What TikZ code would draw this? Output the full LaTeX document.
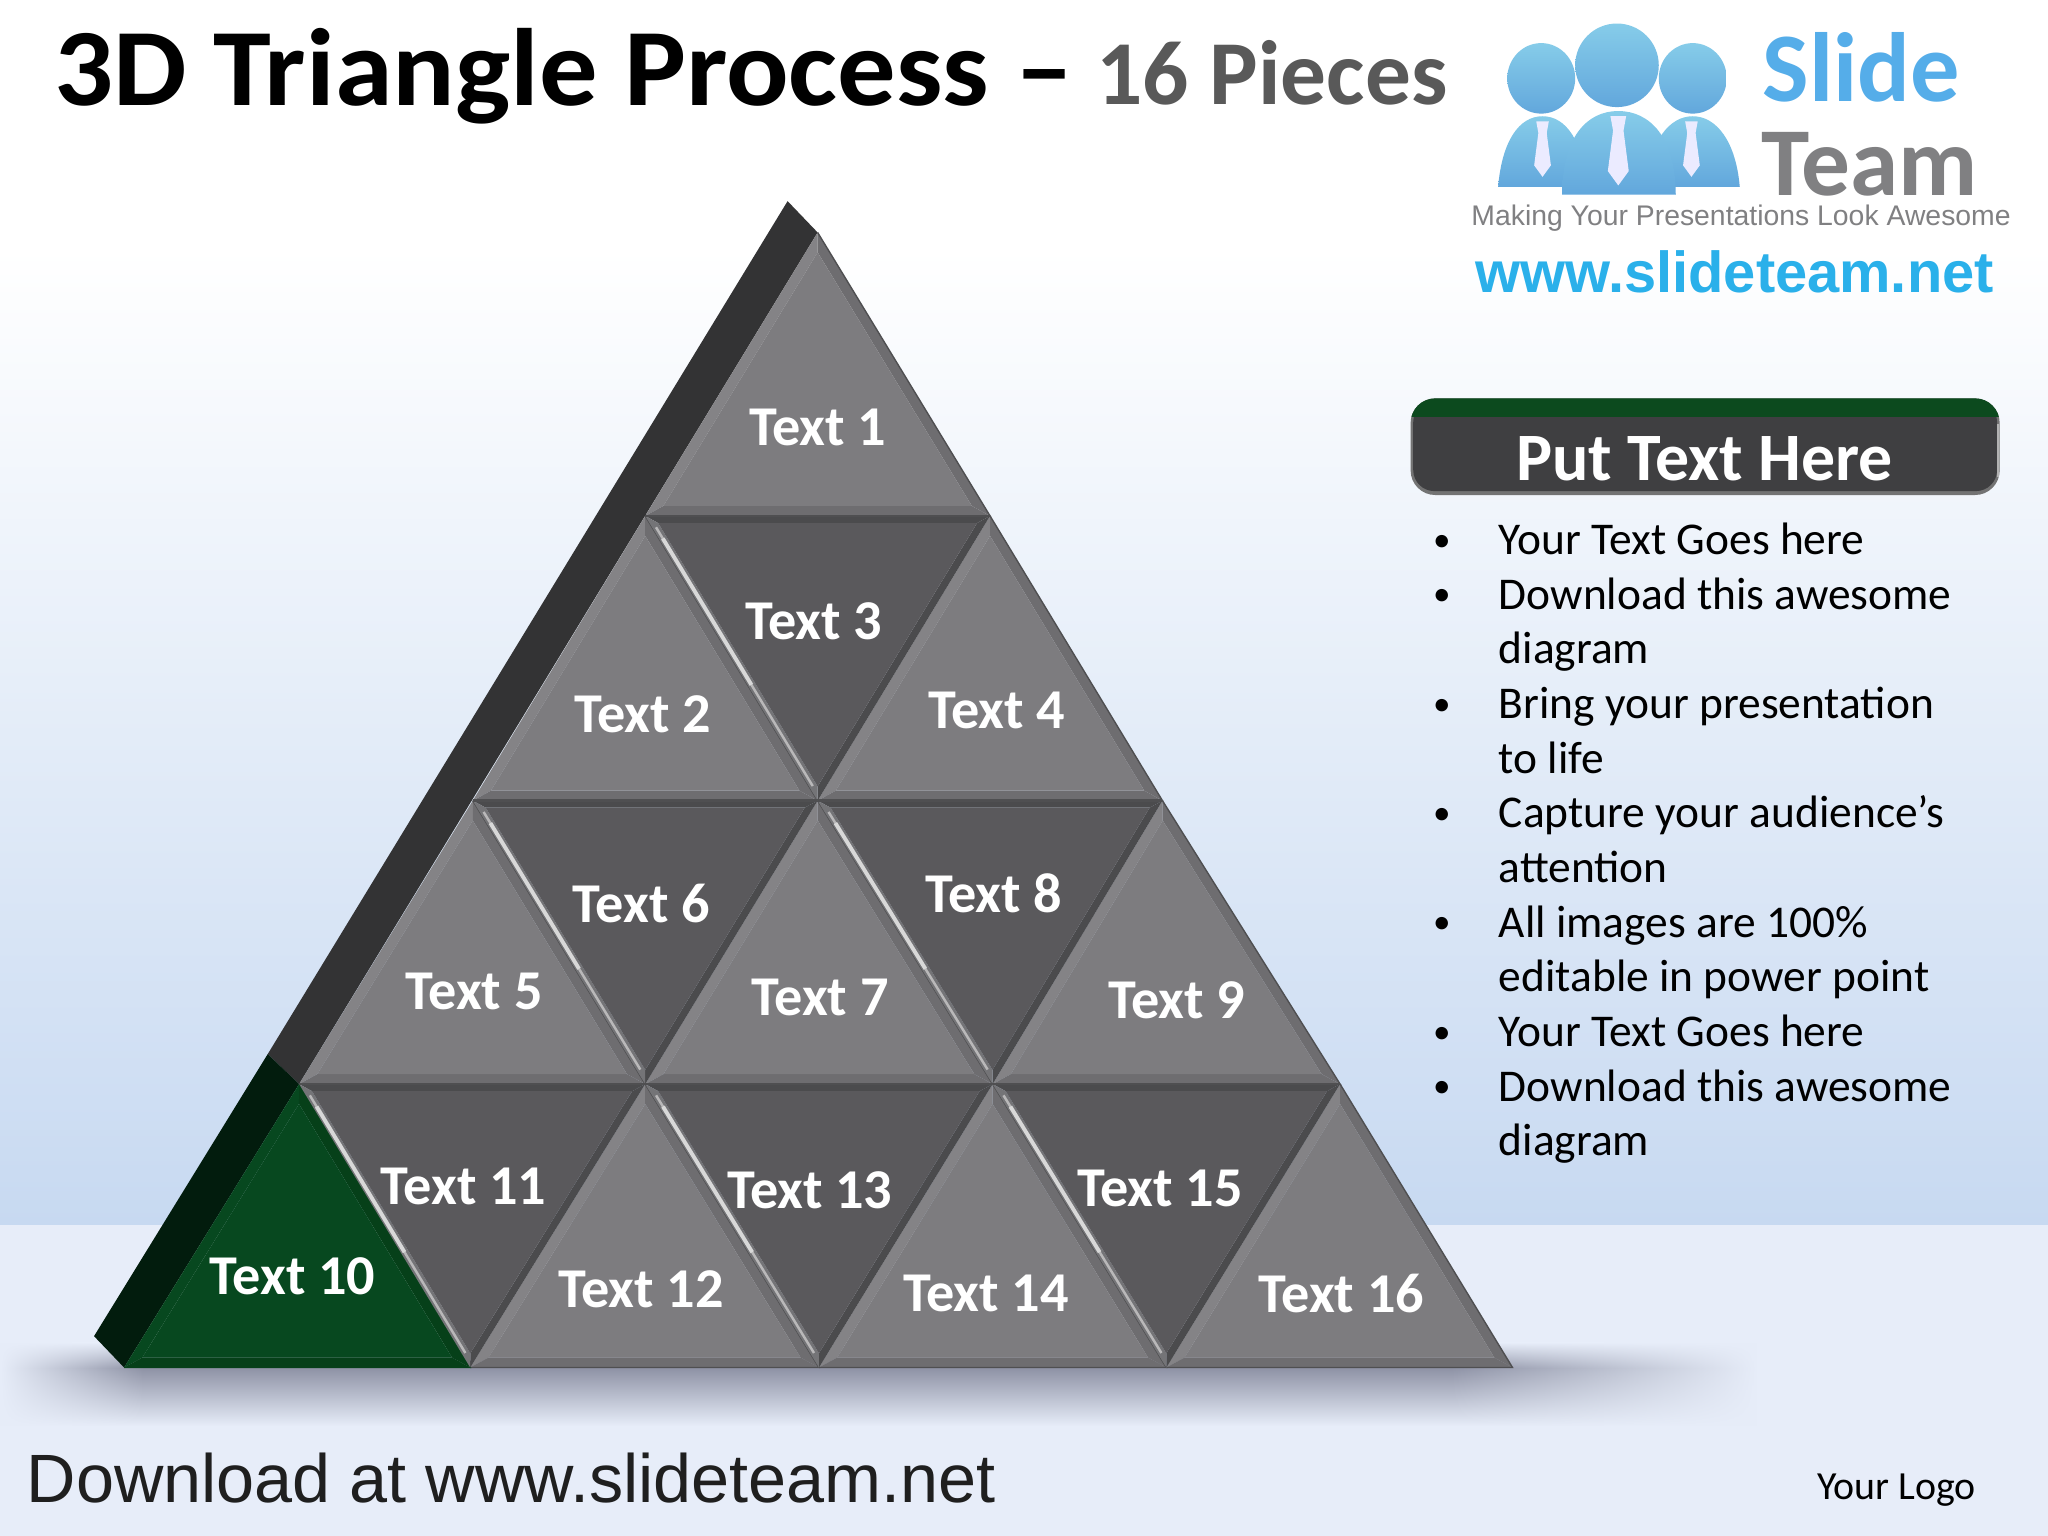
\documentclass[tikz,border=0pt]{standalone}
\usepackage{fontspec}
\setmainfont{Carlito}
\newfontfamily\arialfont{Liberation Sans}
\newfontfamily\titlefont[FakeStretch=1.06]{Carlito}
\usetikzlibrary{calc,fadings}
\definecolor{skyblue}{HTML}{C7D9F1}
\definecolor{floorblue}{HTML}{E7EDF9}
\definecolor{shadowgrey}{HTML}{8E92A5}
\definecolor{slabgrey}{HTML}{333334}
\definecolor{slabgreen}{HTML}{021C0D}
\definecolor{panelgreen}{HTML}{0C4A1E}
\definecolor{paneldark}{HTML}{3F3F41}
\definecolor{logoblue}{HTML}{55ADE9}
\definecolor{logogrey}{HTML}{808082}
\definecolor{logocyan}{HTML}{2AB0EA}
\definecolor{logotop}{HTML}{86CCE9}
\definecolor{logobot}{HTML}{62A7DC}
\definecolor{facegrey}{HTML}{7D7C7F}
\definecolor{litgrey}{HTML}{848386}
\definecolor{sidegrey}{HTML}{6E6D70}
\definecolor{edgegrey}{HTML}{4F4F51}
\definecolor{lowgrey}{HTML}{5A595C}
\definecolor{lowside}{HTML}{4B4B4D}
\definecolor{lowlit}{HTML}{747477}
\definecolor{glint}{HTML}{D8D8D8}
\definecolor{facegreen}{HTML}{07481F}
\definecolor{sidegreen}{HTML}{064019}
\pgfdeclareverticalshading{bandshade}{100bp}{color(0bp)=(floorblue); color(25bp)=(floorblue); color(60bp)=(shadowgrey); color(75bp)=(floorblue); color(100bp)=(floorblue)}
\tikzfading[name=fadeleft,left color=transparent!100,right color=transparent!0]
\tikzfading[name=faderight,left color=transparent!0,right color=transparent!100]
\tikzset{
  piecetext/.style={text=white,font=\fontsize{16}{19}\bfseries\selectfont,inner sep=0pt},
  listtext/.style={anchor=base west,text=black,font=\fontsize{12.93}{15}\selectfont,inner sep=0pt},
  listdot/.style={anchor=base,text=black,font=\fontsize{10}{12}\selectfont,inner sep=0pt},
  logoflesh/.style={top color=logotop,bottom color=logobot},
}
% up pointing piece: apex, left, right, face, lit side, dark side, edge
\newcommand{\uppiece}[7]{
  \coordinate (ia) at (barycentric cs:#1=0.93,#2=0.035,#3=0.035);
  \coordinate (il) at (barycentric cs:#1=0.035,#2=0.93,#3=0.035);
  \coordinate (ir) at (barycentric cs:#1=0.035,#2=0.035,#3=0.93);
  \fill[#5] (#1) -- (#2) -- (il) -- (ia) -- cycle;
  \fill[#6] (#1) -- (#3) -- (ir) -- (ia) -- cycle;
  \fill[#6] (#2) -- (#3) -- (ir) -- (il) -- cycle;
  \fill[#4] (ia) -- (il) -- (ir) -- cycle;
  \draw[#7,line width=0.4pt] (#1) -- (#3) -- (#2);
}
% down pointing piece: left, right, bottom
\newcommand{\downpiece}[3]{
  \coordinate (il) at (barycentric cs:#1=0.95,#2=0.025,#3=0.025);
  \coordinate (ir) at (barycentric cs:#1=0.025,#2=0.95,#3=0.025);
  \coordinate (ib) at (barycentric cs:#1=0.025,#2=0.025,#3=0.95);
  \fill[lowside] (#1) -- (#2) -- (ir) -- (il) -- cycle;
  \fill[lowside] (#2) -- (#3) -- (ib) -- (ir) -- cycle;
  \fill[lowlit] (#1) -- (#3) -- (ib) -- (il) -- cycle;
  \fill[lowgrey] (il) -- (ir) -- (ib) -- cycle;
  \draw[edgegrey,line width=0.7pt] (#1) -- (#2);
  \draw[glint!75!lowgrey,line width=0.7pt] ($(#1)!0.04!(#3)!0.012!(ir)$) -- ($(#1)!0.96!(#3)!0.012!(ir)$);
  \draw[glint,line width=1.1pt] ($(#1)!0.08!(#3)!0.012!(ir)$) -- ($(#1)!0.6!(#3)!0.012!(ir)$);
}
\begin{document}
\begin{tikzpicture}[x=0.0130612cm,y=-0.0130612cm]
\useasboundingbox (0,0) rectangle (1568,1176);
%backdrop
\fill[white] (0,0) rectangle (1568,190);
\shade[top color=white,bottom color=skyblue] (0,190) rectangle (1568,938);
\fill[floorblue] (0,938) rectangle (1568,1176);
%shadow
\shade[shading=bandshade] (110,1028) rectangle (1110,1092);
\shade[shading=bandshade,path fading=fadeleft] (0,1028) rectangle (110,1092);
\shade[shading=bandshade,path fading=faderight] (1110,1028) rectangle (1345,1092);
%grid points
\coordinate (a0) at (626,178);
\coordinate (b0) at (494,395);
\coordinate (b1) at (758,395);
\coordinate (c0) at (362,613);
\coordinate (c1) at (626,613);
\coordinate (c2) at (890,613);
\coordinate (d0) at (229,830);
\coordinate (d1) at (494,830);
\coordinate (d2) at (760,830);
\coordinate (d3) at (1026,830);
\coordinate (e0) at (95,1047);
\coordinate (e1) at (360,1047);
\coordinate (e2) at (627,1047);
\coordinate (e3) at (893,1047);
\coordinate (e4) at (1158,1047);
%side slab
\coordinate (s0) at (603,154);
\coordinate (s1) at (205,807);
\coordinate (s2) at (72,1023);
\fill[slabgrey] (s0) -- (a0) -- (d0) -- (s1) -- cycle;
\fill[slabgreen] (s1) -- (d0) -- (e0) -- (s2) -- cycle;
%pieces
\foreach \pa/\pb/\pc in {a0/b0/b1,b0/c0/c1,b1/c1/c2,c0/d0/d1,c1/d1/d2,c2/d2/d3,d1/e1/e2,d2/e2/e3,d3/e3/e4}{
  \uppiece{\pa}{\pb}{\pc}{facegrey}{litgrey}{sidegrey}{edgegrey}
}
\uppiece{d0}{e0}{e1}{facegreen}{facegreen}{sidegreen}{sidegreen}
\foreach \pa/\pb/\pc in {b0/b1/c1,c0/c1/d1,c1/c2/d2,d0/d1/e1,d1/d2/e2,d2/d3/e3}{
  \downpiece{\pa}{\pb}{\pc}
}
%piece labels
\foreach \n/\px/\py in {1/626/327,2/492/547,3/623/476,4/763/544,5/363/759,6/491/692,7/628/764,8/761/684,9/901/766,10/224/977,11/355/908,12/491/987,13/620/911,14/755/990,15/888/910,16/1027/990}{
  \node[piecetext] (t\n) at (\px,\py) {Text \n};
}
%title
\node[anchor=base west,inner sep=0pt,font=\titlefont\fontsize{31.3}{36}\bfseries\selectfont] (title) at (41,81) {3D Triangle Process \textendash};
\node[anchor=base west,inner sep=0pt,text=black!65,font=\fontsize{26}{32}\bfseries\selectfont] (pieces) at (839,80) {16 Pieces};
%logo
\foreach \bx/\bw in {1181/34,1296/36}{
  \shade[logoflesh] (\bx-\bw,143) .. controls (\bx-\bw+3,108) and (\bx-18,89) .. (\bx,89) .. controls (\bx+18,89) and (\bx+\bw-3,108) .. (\bx+\bw,143) -- cycle;
}
\shade[logoflesh] (1196,149) .. controls (1196,105) and (1215,85) .. (1239,85) .. controls (1263,85) and (1283,105) .. (1283,149) -- cycle;
\shade[logoflesh] (1180,60) ellipse (26 and 27);
\shade[logoflesh] (1296,60) ellipse (26 and 27);
\shade[logoflesh] (1238,50) ellipse (32 and 32);
\foreach \tx/\ty/\ts in {1181/93/0.8,1239/89/1,1295/93/0.8}{
  \fill[white!92!blue,shift={(\tx,\ty)},scale=\ts] (-6,0) -- (6,0) -- (4,11) -- (8,42) -- (0,53) -- (-8,42) -- (-4,11) -- cycle;
}
\node[anchor=base west,inner sep=0pt,text=logoblue,font=\fontsize{28}{32}\bfseries\selectfont] (slide) at (1349,78) {Slide};
\node[anchor=base west,inner sep=0pt,text=logogrey,font=\fontsize{27.7}{32}\bfseries\selectfont] (team) at (1348,150) {Team};
\node[inner sep=0pt,text=logogrey,font=\arialfont\fontsize{8.07}{10}\selectfont] (slogan) at (1333,167) {Making Your Presentations Look Awesome};
\node[inner sep=0pt,text=logocyan,font=\arialfont\fontsize{16.45}{17}\bfseries\selectfont] (site) at (1328,208) {www.slideteam.net};
%panel
\fill[black!55,rounded corners=7] (1080,305) rectangle (1531,379);
\fill[paneldark,rounded corners=6] (1082,307) rectangle (1529,376);
\draw[black!30,line width=0.6pt] (1530,325) -- (1530,365);
\begin{scope}
\clip[rounded corners=7] (1080,305) rectangle (1531,379);
\fill[panelgreen] (1080,305) rectangle (1531,319);
\end{scope}
\node[inner sep=0pt,text=white,font=\fontsize{19.3}{22}\bfseries\selectfont] (panelhead) at (1305,351) {Put Text Here};
%list
\foreach \k/\linetext in {0/Your Text Goes here,1/Download this awesome,2/diagram,3/Bring your presentation,4/to life,5/Capture your audience’s,6/attention,7/All images are 100\%,8/editable in power point,9/Your Text Goes here,10/Download this awesome,11/diagram}{
  \node[listtext] (l\k) at (1147,424.5+41.85*\k) {\linetext};
}
\foreach \k in {0,1,3,5,7,9,10}{
  \node[listdot] (dot\k) at (1104,422+41.85*\k) {•};
}
%footer
\node[anchor=base west,inner sep=0pt,text=black!88,font=\arialfont\fontsize{19.45}{22}\selectfont] (footer) at (20,1150) {Download at www.slideteam.net};
\node[inner sep=0pt,text=black,font=\fontsize{11.35}{13}\selectfont] (yourlogo) at (1452,1141) {Your Logo};
\end{tikzpicture}
\end{document}
